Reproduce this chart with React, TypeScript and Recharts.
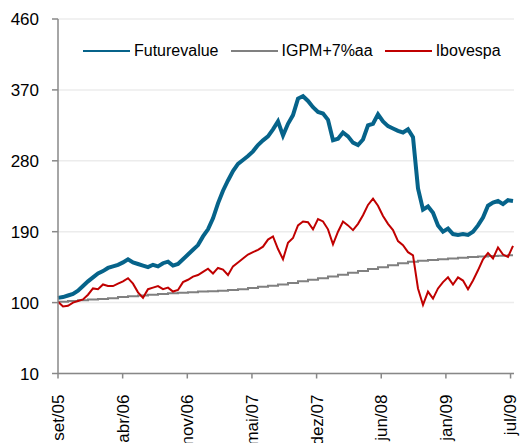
import React from 'react';
import { LineChart, Line, XAxis, YAxis, CartesianGrid, Legend } from 'recharts';

// half-month steps, set/05 .. jul/09
const futurevalue = [
  106, 107, 109, 111, 115, 121, 127, 132, 137, 140, 144, 146, 148, 151, 155, 151, 149, 147, 145, 148,
  146, 150, 152, 147, 149, 155, 161, 167, 173, 184, 193, 207, 226, 242, 255, 267, 276, 281, 286, 292,
  300, 306, 311, 320, 330, 312, 327, 338, 359, 362, 356, 348, 342, 340, 332, 306, 308, 316, 311, 303,
  300, 307, 325, 327, 339, 330, 324, 321, 318, 316, 320, 310, 245, 218, 222, 214, 198, 190, 194, 187,
  186, 187, 186, 190, 198, 208, 223, 227, 229, 225, 230, 229,
];

const igpm = [
  101, 101, 102, 102, 103, 103, 104, 104, 104.5, 104.5, 105.5, 105.5, 107, 107, 108, 108, 109, 109, 110, 110,
  111, 111, 112, 112, 112.5, 112.5, 113, 113, 114, 114, 114.5, 114.5, 115, 115, 116, 116, 117, 117, 118.5, 118.5,
  120, 120, 121.5, 121.5, 123, 123, 125, 125, 127, 127, 129, 129, 131, 131, 133, 133, 135.5, 135.5, 138, 138,
  140, 140, 142.5, 142.5, 145, 145, 147.5, 147.5, 150, 150, 152, 152, 153, 153, 154, 154, 155, 155, 156, 156,
  157, 157, 158, 158, 158.5, 158.5, 159, 159, 159.5, 159.5, 160, 160,
];

const ibovespa = [
  101, 95, 96, 100, 102, 104, 110, 118, 117, 123, 121, 121, 124, 127, 131, 124, 113, 106, 117, 119,
  121, 117, 119, 114, 116, 126, 129, 133, 135, 139, 143, 137, 144, 142, 135, 146, 151, 156, 161, 164,
  167, 171, 180, 184, 168, 155, 176, 182, 198, 203, 202, 193, 206, 203, 193, 174, 190, 203, 198, 192,
  200, 211, 224, 232, 223, 210, 200, 192, 178, 173, 164, 160, 118, 97, 114, 105, 118, 126, 132, 123,
  132, 128, 117, 128, 141, 155, 163, 156, 170, 161, 158, 172,
];

const tickLabels = ['set/05', 'abr/06', 'nov/06', 'mai/07', 'dez/07', 'jun/08', 'jan/09', 'jul/09'];
const tickPositions = [0, 12.93, 25.86, 38.79, 51.72, 64.65, 77.58, 90.51];
const yTicks = [10, 100, 190, 280, 370, 460];

const data = futurevalue.map((v, i) => ({
  i,
  futurevalue: v,
  igpm: igpm[i],
  ibovespa: ibovespa[i],
}));

const FONT = '"Liberation Sans", Arial, sans-serif';

const XTick = (props: any) => {
  const { x, y, payload } = props;
  const idx = tickPositions.indexOf(payload.value);
  return (
    <text
      x={x}
      y={y + 14}
      transform={`rotate(-90, ${x}, ${y + 14})`}
      textAnchor="end"
      dy="0.35em"
      fontSize={17}
      fontFamily={FONT}
      fill="#000"
    >
      {tickLabels[idx]}
    </text>
  );
};

const LegendBox = (props: any) => {
  const { payload } = props;
  return (
    <div style={{ display: 'flex', alignItems: 'center', fontFamily: FONT, fontSize: 16, color: '#000' }}>
      {payload.map((p: any) => (
        <div key={p.value} style={{ display: 'flex', alignItems: 'center', marginRight: 12 }}>
          <svg width={47} height={6} style={{ marginRight: 4 }}>
            <line x1={0} y1={3} x2={47} y2={3} stroke={p.color} strokeWidth={2} />
          </svg>
          <span>{p.value}</span>
        </div>
      ))}
    </div>
  );
};

export default function App() {
  return (
    <div style={{ position: 'absolute', left: 0, top: 0, width: 525, height: 443, background: '#fff', overflow: 'hidden' }}>
      <LineChart width={525} height={443} data={data} margin={{ top: 19, right: 11, bottom: 0, left: 0 }}>
        <CartesianGrid vertical={false} stroke="#ececec" strokeWidth={1.5} />
        <XAxis
          dataKey="i"
          type="number"
          domain={[0, 91.2]}
          ticks={tickPositions}
          interval={0}
          height={69.5}
          tick={<XTick />}
          tickSize={5}
          stroke="#888"
          strokeWidth={1.5}
        />
        <YAxis
          domain={[10, 460]}
          ticks={yTicks}
          interval={0}
          width={58}
          tickSize={6}
          tickMargin={13}
          stroke="#888"
          strokeWidth={1.5}
          tick={{ fontSize: 17, fontFamily: FONT, fill: '#000' }}
        />
        <Legend
          layout="horizontal"
          verticalAlign="middle"
          align="center"
          content={<LegendBox />}
          wrapperStyle={{ top: 42, left: 83, width: 'auto' }}
        />
        <Line
          name="Futurevalue"
          dataKey="futurevalue"
          stroke="#06638a"
          strokeWidth={4}
          dot={false}
          type="linear"
          isAnimationActive={false}
        />
        <Line
          name="IGPM+7%aa"
          dataKey="igpm"
          stroke="#808080"
          strokeWidth={2}
          dot={false}
          type="stepAfter"
          isAnimationActive={false}
        />
        <Line
          name="Ibovespa"
          dataKey="ibovespa"
          stroke="#c00000"
          strokeWidth={2}
          dot={false}
          type="linear"
          isAnimationActive={false}
        />
      </LineChart>
    </div>
  );
}
